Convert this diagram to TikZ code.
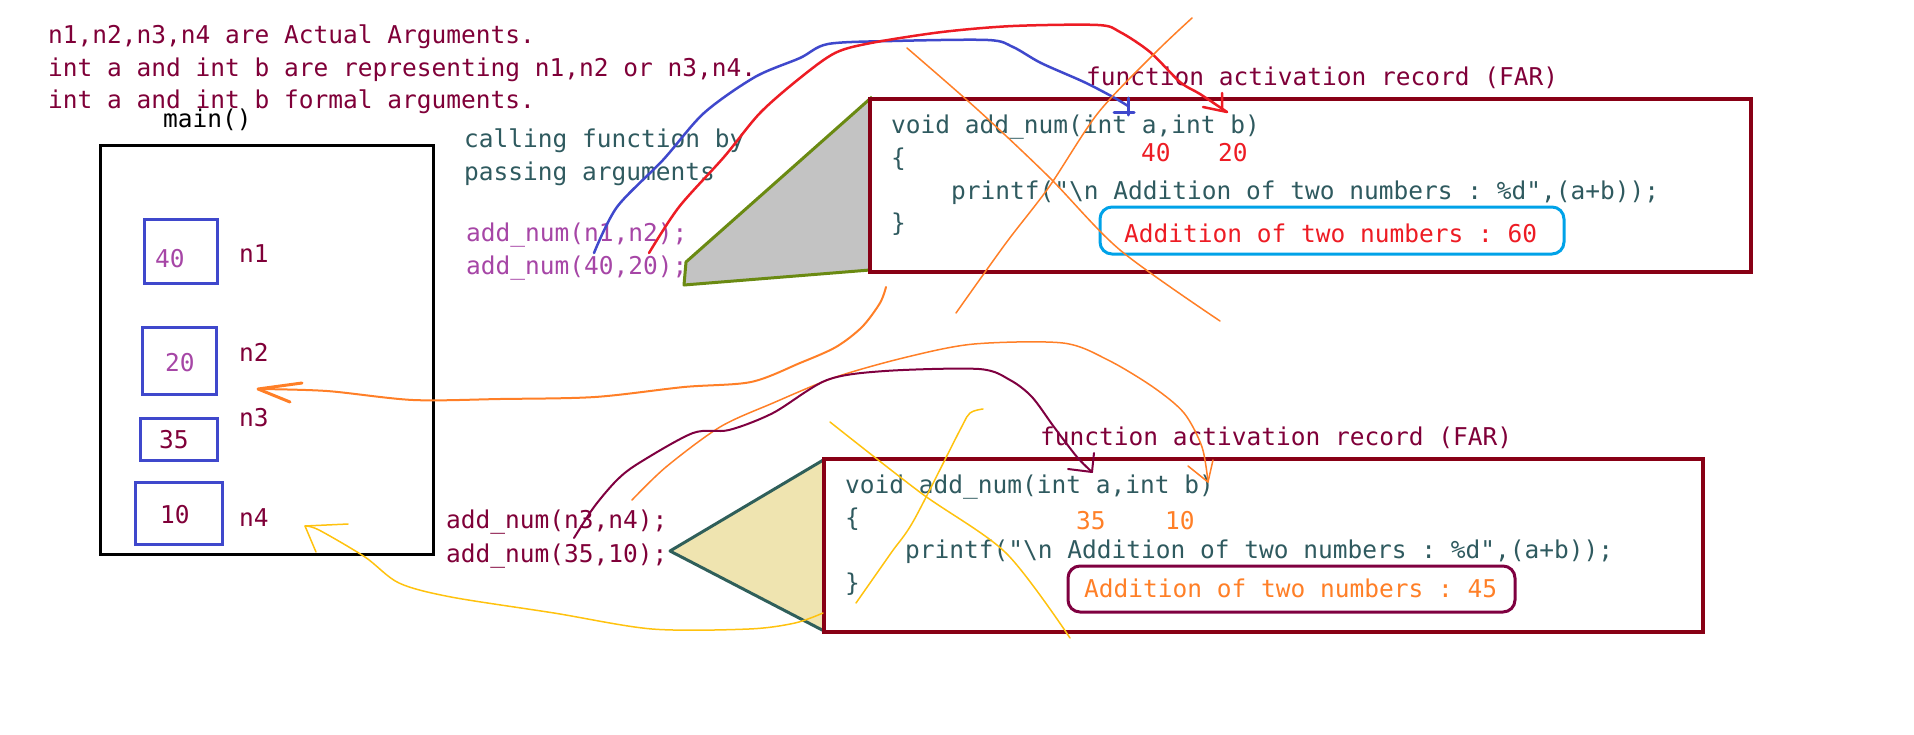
\documentclass[tikz,border=0pt]{standalone}
\usepackage{fontspec}
\setmonofont{DejaVu Sans Mono}
\usepackage{xcolor}
\definecolor{wine}{HTML}{7F0038}
\definecolor{codeteal}{HTML}{2F5A5F}
\definecolor{argpurple}{HTML}{A646A6}
\definecolor{boxblue}{HTML}{3F48CC}
\definecolor{penred}{HTML}{ED1C24}
\definecolor{penorange}{HTML}{FF7F27}
\definecolor{pengold}{HTML}{FFC20E}
\definecolor{penwine}{HTML}{7F0040}
\definecolor{farred}{HTML}{880015}
\definecolor{skyblue}{HTML}{00A2E8}
\definecolor{olivegreen}{HTML}{6A8A12}
\definecolor{slate}{HTML}{2F5F5A}
\definecolor{tan}{HTML}{EFE4B0}
\definecolor{lightgray}{HTML}{C3C3C3}

\begin{document}
\begin{tikzpicture}[x=1pt,y=-1pt,
	txt/.style={font=\ttfamily\fontsize{24.5}{29}\selectfont, inner sep=0pt, anchor=base west},
	valbox/.style={draw=boxblue, line width=3pt},
	farbox/.style={draw=farred, line width=3.5pt},
	pen/.style={line width=2pt, line cap=round, line join=round},
	thinpen/.style={line width=1.5pt, line cap=round, line join=round}]
	\useasboundingbox (0,0) rectangle (1914,734);
	% notes and main()
	\node[txt, wine] (note1) at (48,43) {n1,n2,n3,n4 are Actual Arguments.};
	\node[txt, wine] (note2) at (48,76) {int a and int b are representing n1,n2 or n3,n4.};
	\node[txt, wine] (note3) at (48,108) {int a and int b formal arguments.};
	\node[txt] (mainlbl) at (163,127) {main()};
	\draw[color=black, line width=3pt] (100,145) rectangle (433,554);
	\draw[valbox] (144,219) rectangle (217,283);
	\draw[valbox] (142,327) rectangle (216,394);
	\draw[valbox] (140,418) rectangle (217,460);
	\draw[valbox] (135,482) rectangle (222,544);
	\node[txt, argpurple] (v1) at (155,267) {40};
	\node[txt, argpurple] (v2) at (165,371) {20};
	\node[txt, wine] (v3) at (159,448) {35};
	\node[txt, wine] (v4) at (160,523) {10};
	\node[txt, wine] (n1) at (239,262) {n1};
	\node[txt, wine] (n2) at (239,361) {n2};
	\node[txt, wine] (n3) at (239,426) {n3};
	\node[txt, wine] (n4) at (239,526) {n4};
	% calls
	\node[txt, codeteal] (call1) at (464,147) {calling function by};
	\node[txt, codeteal] (call2) at (464,180) {passing arguments};
	\node[txt, argpurple] (callA) at (466,241) {add\_num(n1,n2);};
	\node[txt, argpurple] (callB) at (466,274) {add\_num(40,20);};
	\node[txt, wine] (callC) at (446,528) {add\_num(n3,n4);};
	\node[txt, wine] (callD) at (446,562) {add\_num(35,10);};
	% upper FAR
	\fill[lightgray] (870,270) -- (684,285) -- (686,262) -- (872,97) -- cycle;
	\draw[olivegreen, line width=3pt, line join=round] (870,270) -- (684,285) -- (686,262) -- (872,97);
	\node[txt, wine] (far1) at (1086,85) {function activation record (FAR)};
	\draw[farbox] (870,99) rectangle (1751,272);
	\node[txt, codeteal] (sig1) at (891,133) {void add\_num(int a,int b)};
	\node[txt, codeteal] at (891,166) {\{};
	\node[txt, codeteal] at (951,199) {printf("\textbackslash n Addition of two numbers : \%d",(a+b));};
	\node[txt, codeteal] at (891,231) {\}};
	\node[txt, penred] (a1) at (1141,161) {40};
	\node[txt, penred] (b1) at (1218,161) {20};
	\draw[skyblue, line width=3pt, rounded corners=12pt] (1100,207) rectangle (1564,254);
	\node[txt, penred] (out1) at (1124,242) {Addition of two numbers : 60};
	% lower FAR
	\fill[tan] (670,551) -- (825,459) -- (826,632) -- cycle;
	\draw[slate, line width=3pt, line join=round] (825,459) -- (670,551) -- (826,632);
	\node[txt, wine] (far2) at (1040,445) {function activation record (FAR)};
	\draw[farbox] (824,459) rectangle (1703,632);
	\node[txt, codeteal] (sig2) at (845,493) {void add\_num(int a,int b)};
	\node[txt, codeteal] at (845,526) {\{};
	\node[txt, codeteal] at (905,558) {printf("\textbackslash n Addition of two numbers : \%d",(a+b));};
	\node[txt, codeteal] at (845,591) {\}};
	\node[txt, penorange] (a2) at (1076,529) {35};
	\node[txt, penorange] (b2) at (1165,529) {10};
	\draw[penwine, line width=3pt, rounded corners=12pt] (1068,566) rectangle (1515,612);
	\node[txt, penorange] (out2) at (1084,597) {Addition of two numbers : 45};
	% pen strokes
	\coordinate (blueS) at (594,253); \coordinate (blueE) at (1128,106);
	\coordinate (redS) at (649,253); \coordinate (redE) at (1227,112);
	\coordinate (orS) at (886,287); \coordinate (orE) at (258,389);
	\coordinate (or2S) at (632,500); \coordinate (or2E) at (1208,482);
	\coordinate (wnS) at (574,538); \coordinate (wnE) at (1092,472);
	\coordinate (goS) at (823,613); \coordinate (goE) at (305,526);
	\draw[pen, boxblue, line width=2.5pt] plot[smooth, tension=.5] coordinates {(blueS) (617,207) (663,160) (704,113) (755,77) (800,58) (828,44) (892,41) (988,40) (1013,47) (1041,63) (1084,82) (1113,97) (blueE)};
	\draw[pen, boxblue, line width=3pt] (1128,98) -- (1128,115) (1114,112) -- (1134,112);
	\draw[pen, penred, line width=2.5pt] plot[smooth, tension=.5] coordinates {(redS) (679,207) (724,157) (760,113) (800,78) (835,53) (871,43) (942,32) (1013,26) (1098,25) (1120,32) (1150,52) (1180,82) (1200,94) (redE)};
	\draw[pen, penred, line width=2.5pt] (1203,107) -- (redE) (1222,93) -- (1222,110);
	\draw[thinpen, penorange] plot[smooth, tension=.5] coordinates {(907,48) (978,110) (1049,177) (1120,250) (1220,321)};
	\draw[thinpen, penorange] plot[smooth, tension=.5] coordinates {(1192,18) (1155,53) (1098,113) (1049,187) (1006,243) (956,313)};
	\draw[pen, penorange] plot[smooth, tension=.5] coordinates {(orS) (880,303) (862,327) (836,347) (800,363) (751,382) (684,387) (595,397) (500,399) (413,400) (327,391) (orE)};
	\draw[pen, penorange, line width=3pt] (302,383) -- (orE) -- (290,402);
	\draw[thinpen, penorange] plot[smooth, tension=.5] coordinates {(or2S) (666,467) (720,427) (773,403) (836,377) (907,357) (974,344) (1063,343) (1108,360) (1153,387) (1184,413) (1202,447) (or2E)};
	\draw[thinpen, penorange] (1188,466) -- (or2E) -- (1213,460);
	\draw[pen, penwine] plot[smooth, tension=.5] coordinates {(wnS) (594,507) (617,480) (639,463) (693,433) (729,430) (773,413) (827,380) (885,371) (979,369) (1010,380) (1032,397) (1054,427) (1077,457) (wnE)};
	\draw[pen, penwine] (1094,453) -- (wnE) -- (1068,469);
	\draw[thinpen, pengold] plot[smooth, tension=.5] coordinates {(830,422) (921,493) (1006,553) (1070,638)};
	\draw[thinpen, pengold] plot[smooth, tension=.5] coordinates {(983,409) (970,413) (960,430) (914,520) (891,553) (856,603)};
	\draw[thinpen, pengold] plot[smooth, tension=.5] coordinates {(goS) (795,623) (749,629) (652,629) (554,613) (451,597) (399,583) (365,557) (319,530) (goE)};
	\draw[thinpen, pengold] (348,524) -- (goE) -- (316,552);
\end{tikzpicture}
\end{document}
